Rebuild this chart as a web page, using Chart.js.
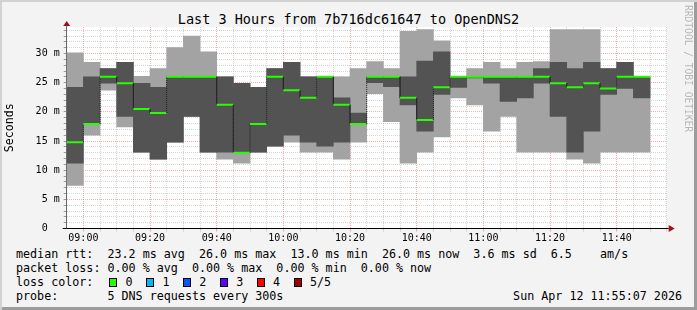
<!DOCTYPE html>
<html>
<head>
<meta charset="utf-8">
<script src="https://cdn.jsdelivr.net/npm/chart.js@4.4.1/dist/chart.umd.min.js"></script>
<style>
  body { margin: 0; overflow: hidden; }
  #frame {
    position: relative; width: 697px; height: 310px; background: #f3f3f3;
    box-shadow: inset 2px 2px 0 #d2d2d2, inset -3px -3px 0 #9c9c9c;
    font-family: "DejaVu Sans Mono", monospace; color: #000;
  }
  #title { position: absolute; left: 0; top: 11px; width: 697px; text-align: center; font-size: 13.5px; line-height: 16px; }
  #wrap { position: absolute; left: 0; top: 0; width: 697px; height: 245px; }
  #credit {
    position: absolute; left: 683px; top: 5px; font-size: 9.6px; color: #b8b8b8;
    writing-mode: vertical-rl; line-height: 10px;
  }
  #legend { position: absolute; left: 16px; top: 247px; width: 666px; font-size: 11.7px; line-height: 14px; white-space: pre; }
  #stamp { position: absolute; right: 0; }
  .item { display: inline-block; width: 36.9px; }
  .box { display: inline-block; width: 6px; height: 7px; border: 1px solid #000; margin: 0 8px 0 2px; vertical-align: -1px; }
</style>
</head>
<body>
<div id="frame">
  <div id="title">Last 3 Hours from 7b716dc61647 to OpenDNS2</div>
  <div id="wrap"><canvas id="chart"></canvas></div>
  <div id="credit">RRDTOOL / TOBI OETIKER</div>
  <div id="legend"><div>median rtt:  23.2 ms avg  26.0 ms max  13.0 ms min  26.0 ms now  3.6 ms sd  6.5    am/s</div><div>packet loss: 0.00 % avg  0.00 % max  0.00 % min  0.00 % now</div><div id="lossRow">loss color:  </div><div>probe:       5 DNS requests every 300s<span id="stamp">Sun Apr 12 11:55:07 2026</span></div></div>
</div>

<script>
// 5 minute slots, 08:55 .. 11:50
const slots = ["08:55","09:00","09:05","09:10","09:15","09:20","09:25","09:30","09:35","09:40","09:45","09:50",
  "09:55","10:00","10:05","10:10","10:15","10:20","10:25","10:30","10:35","10:40","10:45","10:50",
  "10:55","11:00","11:05","11:10","11:15","11:20","11:25","11:30","11:35","11:40","11:45","11:50"];

// rtt in ms per slot (last slot has no data yet)
const maxRtt = [30.1, 28.5, 27.4, 28.5, 26.1, 27.4, 31.0, 33.0, 30.3, 26.0, 24.9, 24.2, 27.4, 28.5, 26.0, 26.0, 26.0, 27.4,
  28.6, 27.4, 33.8, 34.1, 32.2, 26.0, 27.4, 28.5, 27.4, 28.5, 28.6, 34.1, 34.1, 34.1, 27.4, 28.5, 26.0, null];
const minRtt = [7.4, 16.0, 23.7, 17.4, 13.1, 11.9, 14.8, 19.2, 13.1, 11.9, 11.2, 13.1, 14.1, 14.8, 13.1, 13.1, 11.9, 14.8,
  23.1, 18.3, 11.2, 13.1, 15.7, 22.4, 21.2, 16.7, 19.2, 13.1, 13.1, 13.1, 11.9, 11.2, 13.1, 13.1, 13.1, null];
const smokeHigh = [24.2, 26.0, 27.4, 28.5, 24.9, 24.2, 26.0, 26.0, 26.0, 26.0, 24.9, 24.2, 27.4, 28.5, 26.0, 26.0, 22.4, 19.8,
  26.0, 26.0, 26.0, 28.7, 30.3, 26.0, 26.0, 26.0, 26.0, 26.0, 27.4, 28.5, 27.4, 28.5, 27.4, 28.5, 26.0, null];
const smokeLow = [11.2, 17.9, 24.9, 19.2, 13.1, 11.9, 14.8, 19.2, 13.1, 13.1, 13.1, 13.1, 14.1, 16.0, 14.8, 14.1, 14.8, 17.9,
  25.0, 24.3, 21.2, 16.7, 23.0, 24.2, 25.8, 24.9, 21.8, 22.4, 24.9, 19.2, 13.1, 16.7, 23.0, 24.0, 22.4, null];
const median = [14.8, 17.9, 26.0, 24.9, 20.5, 19.8, 26.0, 26.0, 26.0, 21.2, 13.0, 17.9, 26.0, 23.7, 22.4, 26.0, 21.2, 17.9,
  26.0, 26.0, 22.4, 18.6, 24.2, 26.0, 26.0, 26.0, 26.0, 26.0, 26.0, 24.9, 24.2, 24.9, 24.0, 26.0, 26.0, null];

const timeLabels = ["09:00","09:20","09:40","10:00","10:20","10:40","11:00","11:20","11:40"];
const lossLabels = ["0", "1", "2", "3", "4", "5/5"];
const lossColors = ["#26ff00", "#00b8ff", "#0059ff", "#5e00ff", "#ff0000", "#a00000"];

const MONO = "DejaVu Sans Mono";
const MAJOR = "rgba(235,90,90,0.5)";
const MINOR = "rgba(150,150,150,0.4)";

// loss colour legend
const lossRow = document.getElementById("lossRow");
lossLabels.forEach((label, i) => {
  const item = document.createElement("span");
  item.className = "item";
  item.innerHTML = `<span class="box" style="background:${lossColors[i]}"></span>${label}`;
  lossRow.appendChild(item);
});

// median as a step line: a point at each slot edge, minutes from 09:00
const medianPoints = [];
median.forEach((m, i) => {
  if (m === null) return;
  const start = i * 5 - 5;
  medianPoints.push({ x: start, y: m }, { x: start + 5, y: m });
});

const isJump = ctx => ctx.p0.parsed.x === ctx.p1.parsed.x;

// white plot area plus the little axis arrows
const rrdLook = {
  id: "rrdLook",
  beforeDraw(chart) {
    const { ctx, chartArea: a } = chart;
    ctx.save();
    ctx.fillStyle = "#fff";
    ctx.fillRect(a.left, a.top, a.width, a.height);
    ctx.restore();
  },
  afterDraw(chart) {
    const { ctx, chartArea: a } = chart;
    ctx.save();
    ctx.strokeStyle = "#000";
    ctx.lineWidth = 1;
    ctx.beginPath();
    ctx.moveTo(a.left - 4, a.bottom); ctx.lineTo(a.left, a.bottom);
    ctx.moveTo(a.right, a.bottom); ctx.lineTo(a.right + 2, a.bottom);
    ctx.stroke();
    ctx.strokeStyle = "#666";
    ctx.beginPath();
    ctx.moveTo(a.left, a.top); ctx.lineTo(a.left, a.top - 2);
    ctx.stroke();
    ctx.fillStyle = "#a01010";
    ctx.beginPath();
    ctx.moveTo(a.left, a.top - 6); ctx.lineTo(a.left - 3.5, a.top - 1); ctx.lineTo(a.left + 3.5, a.top - 1);
    ctx.closePath(); ctx.fill();
    ctx.beginPath();
    ctx.moveTo(a.right + 8, a.bottom); ctx.lineTo(a.right + 2, a.bottom - 3.5); ctx.lineTo(a.right + 2, a.bottom + 3.5);
    ctx.closePath(); ctx.fill();
    ctx.restore();
  }
};

new Chart(document.getElementById("chart"), {
  type: "bar",
  data: {
    labels: slots,
    datasets: [
      {
        type: "line",
        data: medianPoints,
        xAxisID: "x2",
        yAxisID: "y",
        borderColor: "#26ff00",
        borderWidth: 2,
        pointRadius: 0,
        tension: 0,
        order: 0,
        segment: {
          borderColor: ctx => isJump(ctx) ? "#222" : undefined,
          borderWidth: ctx => isJump(ctx) ? 1 : undefined,
          borderDash: ctx => isJump(ctx) ? [1, 1] : undefined
        }
      },
      {
        data: smokeLow.map((v, i) => v === null ? null : [v, smokeHigh[i]]),
        xAxisID: "x",
        backgroundColor: "#535353",
        order: 1
      },
      {
        data: minRtt.map((v, i) => v === null ? null : [v, maxRtt[i]]),
        xAxisID: "x",
        backgroundColor: "#a3a3a3",
        order: 2
      }
    ]
  },
  options: {
    responsive: true,
    maintainAspectRatio: false,
    animation: false,
    devicePixelRatio: 1,
    layout: { padding: { top: 27, right: 30.3, left: 0, bottom: 0 } },
    datasets: {
      bar: { grouped: false, barPercentage: 1, categoryPercentage: 1, borderWidth: 0, borderSkipped: false }
    },
    plugins: { legend: { display: false }, tooltip: { enabled: false } },
    scales: {
      x: { type: "category", display: false, offset: true },
      x2: {
        type: "linear",
        position: "bottom",
        min: -5,
        max: 175,
        offset: false,
        z: 1,
        afterBuildTicks: scale => {
          scale.ticks = [];
          for (let v = 0; v <= 175; v += 5) scale.ticks.push({ value: v });
        },
        afterFit: scale => { scale.height = 16.5; scale.paddingLeft = 0; scale.paddingRight = 0; },
        ticks: {
          autoSkip: false, maxRotation: 0, padding: 1, color: "#000",
          font: { family: MONO, size: 10 },
          callback: v => v % 20 === 0 ? timeLabels[v / 20] : ""
        },
        grid: { offset: false, color: ctx => ctx.tick && ctx.tick.value % 20 === 0 ? MAJOR : MINOR, tickLength: 3 },
        border: { color: "#000", width: 1, dash: [1, 1] }
      },
      y: {
        min: 0,
        max: 34.55,
        z: 1,
        afterFit: scale => { scale.width = 66.7; scale.paddingTop = 0; scale.paddingBottom = 0; },
        ticks: {
          stepSize: 1, includeBounds: false, autoSkip: false, padding: 4, color: "#000",
          font: { family: MONO, size: 10 },
          callback: v => {
            const n = Math.round(v);
            if (n % 5 !== 0) return "";
            return n === 0 ? "0  " : n + " m";
          }
        },
        grid: {
          color: ctx => ctx.tick && Math.round(ctx.tick.value) % 5 === 0 ? MAJOR : MINOR,
          tickLength: 3, tickColor: "#999"
        },
        border: { color: "#666", width: 1, dash: [1, 1] },
        title: { display: true, text: "Seconds", font: { family: MONO, size: 11.6 }, color: "#000", padding: { top: 3, bottom: 0 } }
      }
    }
  },
  plugins: [rrdLook]
});
</script>
</body>
</html>
